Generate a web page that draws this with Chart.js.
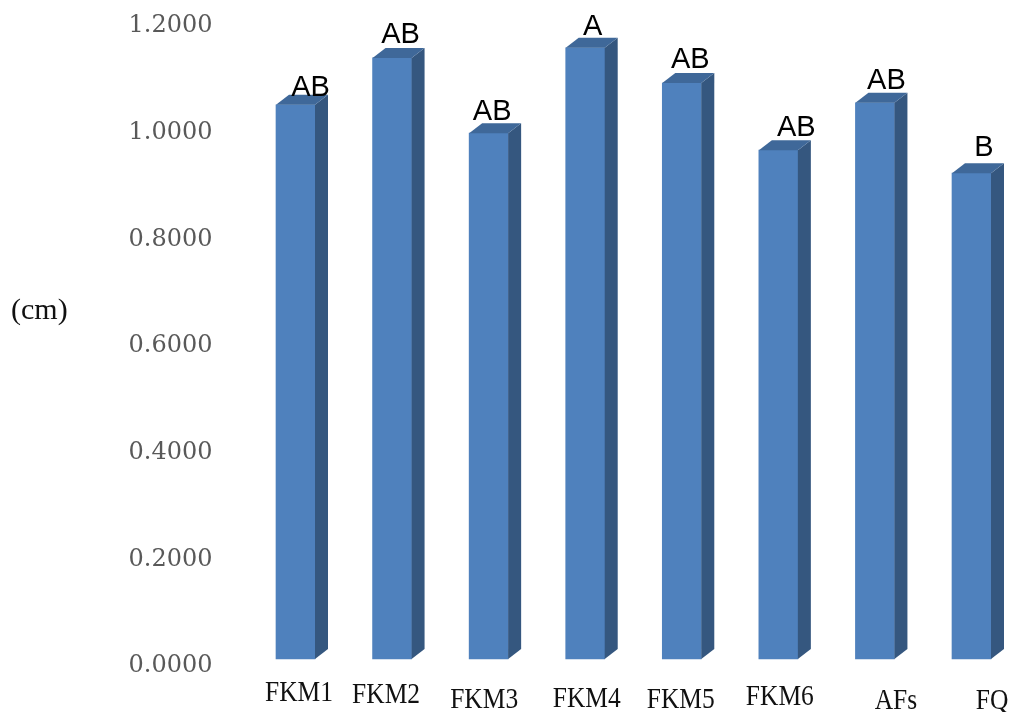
<!DOCTYPE html>
<html>
<head>
<meta charset="utf-8">
<script src="https://cdn.jsdelivr.net/npm/chart.js@4/dist/chart.umd.min.js"></script>
<style>
  body { margin: 0; background: #fff; }
</style>
</head>
<body>
<canvas id="chart" width="1011" height="712"></canvas>
<script>
// data
const categories = ['FKM1', 'FKM2', 'FKM3', 'FKM4', 'FKM5', 'FKM6', 'AFs', 'FQ'];
const values = [1.039, 1.127, 0.986, 1.146, 1.080, 0.954, 1.043, 0.911];
const groups = ['AB', 'AB', 'AB', 'A', 'AB', 'AB', 'AB', 'B'];
const yTicks = [0, 0.2, 0.4, 0.6, 0.8, 1.0, 1.2];

// label nudges: category names (x shift, baseline) and group letters (x shift, lift)
const nameShiftX = [3.5, -6, -4.5, 1.5, -1, 1.5, 21, 20.5];
const nameBaseline = [701, 703, 708, 707, 708, 705, 709, 709];
const groupShiftX = [15, 8.5, 3.5, 7.5, 8.5, 18, 11.5, 12.5];
const groupLift = [9, 15, 13, 13, 15, 14, 14, 17];

const DX = 13, DY = 10; // 3d depth

const bar3d = {
  id: 'bar3d',
  afterDatasetsDraw(chart) {
    const ctx = chart.ctx;
    const meta = chart.getDatasetMeta(0);
    ctx.save();
    meta.data.forEach((bar, i) => {
      const p = bar.getProps(['x', 'y', 'base', 'width'], true);
      const l = p.x - p.width / 2, r = p.x + p.width / 2;
      // side
      ctx.fillStyle = '#35577F';
      ctx.beginPath();
      ctx.moveTo(r, p.y);
      ctx.lineTo(r + DX, p.y - DY);
      ctx.lineTo(r + DX, p.base - DY);
      ctx.lineTo(r, p.base);
      ctx.closePath();
      ctx.fill();
      // top
      ctx.fillStyle = '#3F6899';
      ctx.beginPath();
      ctx.moveTo(l, p.y);
      ctx.lineTo(l + DX, p.y - DY);
      ctx.lineTo(r + DX, p.y - DY);
      ctx.lineTo(r, p.y);
      ctx.closePath();
      ctx.fill();
      // group letters
      ctx.fillStyle = '#000';
      ctx.font = '29px "Liberation Sans", Arial, sans-serif';
      ctx.textAlign = 'center';
      ctx.textBaseline = 'alphabetic';
      ctx.fillText(groups[i], p.x + groupShiftX[i], p.y - groupLift[i]);
      // category names, a bit condensed like the original
      ctx.save();
      ctx.translate(p.x + nameShiftX[i], nameBaseline[i]);
      ctx.scale(0.85, 1);
      ctx.font = '30px "Liberation Serif", serif';
      ctx.fillStyle = '#111';
      ctx.fillText(categories[i], 0, 0);
      ctx.restore();
    });
    // unit label
    ctx.font = '30px "Liberation Serif", serif';
    ctx.fillStyle = '#111';
    ctx.textAlign = 'left';
    ctx.textBaseline = 'middle';
    ctx.fillText('(cm)', 11, 311);
    ctx.restore();
  }
};

new Chart(document.getElementById('chart'), {
  type: 'bar',
  data: {
    labels: categories,
    datasets: [{
      data: values,
      backgroundColor: '#4F81BD',
      barThickness: 39,
      clip: false
    }]
  },
  options: {
    responsive: false,
    animation: false,
    layout: { padding: { top: 19, right: 39.5, bottom: 53, left: 0 } },
    plugins: { legend: { display: false }, tooltip: { enabled: false } },
    scales: {
      x: {
        display: false,
        offset: false
      },
      y: {
        min: 0,
        max: 1.2,
        afterFit(scale) {
          scale.width = 295.5;
          scale.paddingTop = 0;
          scale.paddingBottom = 0;
        },
        afterBuildTicks(scale) { scale.ticks = yTicks.map(v => ({ value: v })); },
        grid: { display: false, drawTicks: false },
        border: { display: false },
        ticks: {
          padding: 83,
          labelOffset: 7,
          color: '#595959',
          font: { family: '"DejaVu Serif", serif', size: 24 },
          callback: v => Number(v).toFixed(4)
        }
      }
    }
  },
  plugins: [bar3d]
});
</script>
</body>
</html>
